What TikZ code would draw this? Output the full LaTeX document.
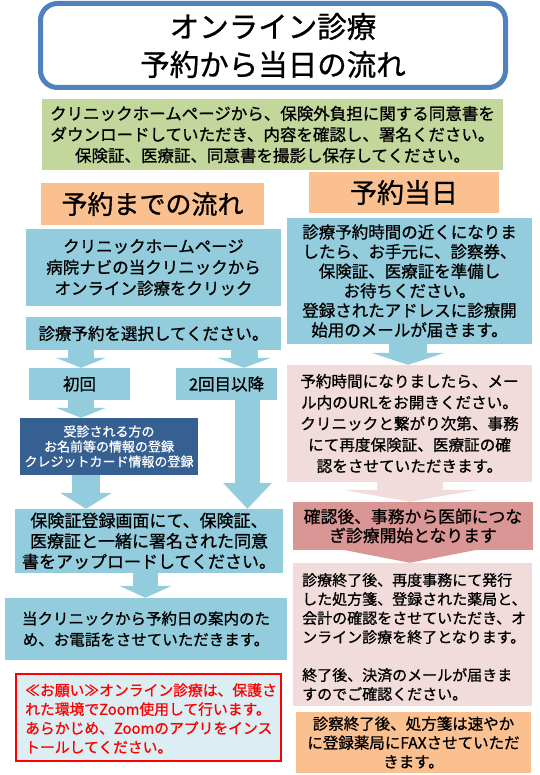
\documentclass[tikz,border=0pt]{standalone}
\usepackage{fontspec}
\setmainfont{Noto Sans CJK JP}[RawFeature={embolden=0.9}]
\usetikzlibrary{arrows.meta}
\definecolor{titleblue}{HTML}{4F81BD}
\definecolor{gbox}{HTML}{C3D69B}
\definecolor{obox}{HTML}{FAC090}
\definecolor{lbox}{HTML}{93CDDD}
\definecolor{dbox}{HTML}{376092}
\definecolor{pbox}{HTML}{F2DCDB}
\definecolor{pdbox}{HTML}{D99694}
\definecolor{rfill}{HTML}{DBEEF4}
\definecolor{rline}{HTML}{FF0000}
\newcommand\jpfs[2]{\fontsize{#1}{#2}\selectfont}
\begin{document}
\begin{tikzpicture}[x=1pt,y=-1pt,
  box/.style={inner sep=0pt, align=center, text=black},
  barrow/.style n args={5}{draw=#1, line width=#2,
    -{Triangle[width=#3 0, length=#4 0, line width=0pt 0 0, fill=#1]}}]
\useasboundingbox (0,0) rectangle (539,775);
% title
\node[box, draw=titleblue, line width=5pt, rounded corners=17pt, fill=white,
  minimum width=465pt, minimum height=84pt, font=\jpfs{29.5}{38}] (title) at (273,45.5)
  {オンライン診療\\予約から当日の流れ};
\node[box, fill=gbox, minimum width=461pt, minimum height=71pt, font=\jpfs{16.5}{21}] (g) at (272.5,134.5)
  {クリニックホームページから、保険外負担に関する同意書を\\ダウンロードしていただき、内容を確認し、署名ください。\\保険証、医療証、同意書を撮影し保存してください。};
% headers
\node[box, fill=obox, minimum width=223pt, minimum height=42pt, font=\jpfs{26}{30}] (hl) at (152.5,204) {予約までの流れ};
\node[box, fill=obox, minimum width=190pt, minimum height=41pt, font=\jpfs{27}{30}] (hr) at (404,192.5) {予約当日};
% left column
\node[box, fill=lbox, minimum width=255pt, minimum height=77pt, font=\jpfs{16.5}{21}] (b1) at (153.5,267.5)
  {クリニックホームページ\\病院ナビの当クリニックから\\オンライン診療をクリック};
\node[box, fill=lbox, minimum width=255pt, minimum height=33pt, font=\jpfs{16.5}{21}] (b2) at (153.5,333.5)
  {診療予約を選択してください。};
\node[box, fill=lbox, minimum width=101pt, minimum height=32pt, font=\jpfs{16.5}{21}] (c1) at (79.5,384) {初回};
\node[box, fill=lbox, minimum width=101pt, minimum height=32pt, font=\jpfs{16.5}{21}] (c2) at (226.5,384) {2回目以降};
\node[box, fill=dbox, text=white, minimum width=178pt, minimum height=57pt, font=\jpfs{13}{15}] (d) at (109,446.5)
  {受診される方の\\お名前等の情報の登録\\クレジットカード情報の登録};
\node[box, fill=lbox, minimum width=268pt, minimum height=64pt, font=\jpfs{17}{20.5}] (e) at (149,541)
  {保険証登録画面にて、保険証、\\医療証と一緒に署名された同意\\書をアップロードしてください。};
\node[box, fill=lbox, minimum width=282pt, minimum height=62pt, font=\jpfs{15.5}{21}] (f) at (146,629)
  {当クリニックから予約日の案内のた\\め、お電話をさせていただきます。};
\node[box, draw=rline, line width=2pt, fill=rfill, minimum width=265pt, minimum height=87pt] (r) at (148.5,717.5) {};
\node[inner sep=0pt, anchor=west, align=left, text=rline, font=\jpfs{14.8}{19}] (rt) at (25,718.5)
  {≪お願い≫オンライン診療は、保護さ\\れた環境でZoom使用して行います。\\あらかじめ、Zoomのアプリをインス\\トールしてください。};
% right column
\node[box, fill=lbox, minimum width=245pt, minimum height=126pt, font=\jpfs{16.5}{19.6}] (rb) at (409.5,281)
  {診療予約時間の近くになりま\\したら、お手元に、診察券、\\保険証、医療証を準備し\\お待ちください。\\登録されたアドレスに診療開\\始用のメールが届きます。};
\node[box, fill=pbox, minimum width=245pt, minimum height=117pt, font=\jpfs{15.6}{21.2}] (p1) at (409.5,423.5)
  {予約時間になりましたら、メー\\ル内のURLをお開きください。\\クリニックと繋がり次第、事務\\にて再度保険証、医療証の確\\認をさせていただきます。};
\node[box, fill=pdbox, minimum width=240pt, minimum height=48pt, font=\jpfs{16.8}{19}] (p2) at (413,526)
  {確認後、事務から医師につな\\ぎ診療開始となります};
\node[box, fill=pbox, minimum width=239pt, minimum height=143pt] (p3) at (412.5,634.5) {};
\node[inner sep=0pt, anchor=west, align=left, text=black, font=\jpfs{15}{19}] (p3t) at (302,637)
  {診療終了後、再度事務にて発行\\した処方箋、登録された薬局と、\\会計の確認をさせていただき、オ\\ンライン診療を終了となります。\\[19pt]終了後、決済のメールが届きま\\すのでご確認ください。};
\node[box, fill=obox, minimum width=235pt, minimum height=61pt, font=\jpfs{15.5}{19}] (o) at (413.5,742.5)
  {診察終了後、処方箋は速やか\\に登録薬局にFAXさせていただ\\きます。};
% block arrows
\draw[barrow={lbox}{26pt}{50pt}{10pt}{}] (81,0 |- b2.south) -- (81,0 |- c1.north);
\draw[barrow={lbox}{27pt}{54pt}{10pt}{}] (244,0 |- b2.south) -- (244,0 |- c2.north);
\draw[barrow={lbox}{26pt}{50pt}{10pt}{}] (81,0 |- c1.south) -- (81,0 |- d.north);
\draw[barrow={lbox}{28pt}{52pt}{16pt}{}] (86,0 |- d.south) -- (86,0 |- e.north);
\draw[barrow={lbox}{25pt}{49pt}{26pt}{}] (247.5,0 |- c2.south) -- (247.5,0 |- e.north);
\draw[barrow={lbox}{25pt}{52pt}{12pt}{}] (145.5,0 |- e.south) -- (145.5,0 |- f.north);
\draw[barrow={lbox}{38pt}{73pt}{12pt}{}] (408,0 |- rb.south) -- (408,0 |- p1.north);
\draw[barrow={pbox}{66pt}{134pt}{12pt}{}] (410,0 |- p1.south) -- (410,0 |- p2.north);
\draw[barrow={pdbox}{66pt}{134pt}{13pt}{}] (410,0 |- p2.south) -- (410,0 |- p3.north);
\end{tikzpicture}
\end{document}
